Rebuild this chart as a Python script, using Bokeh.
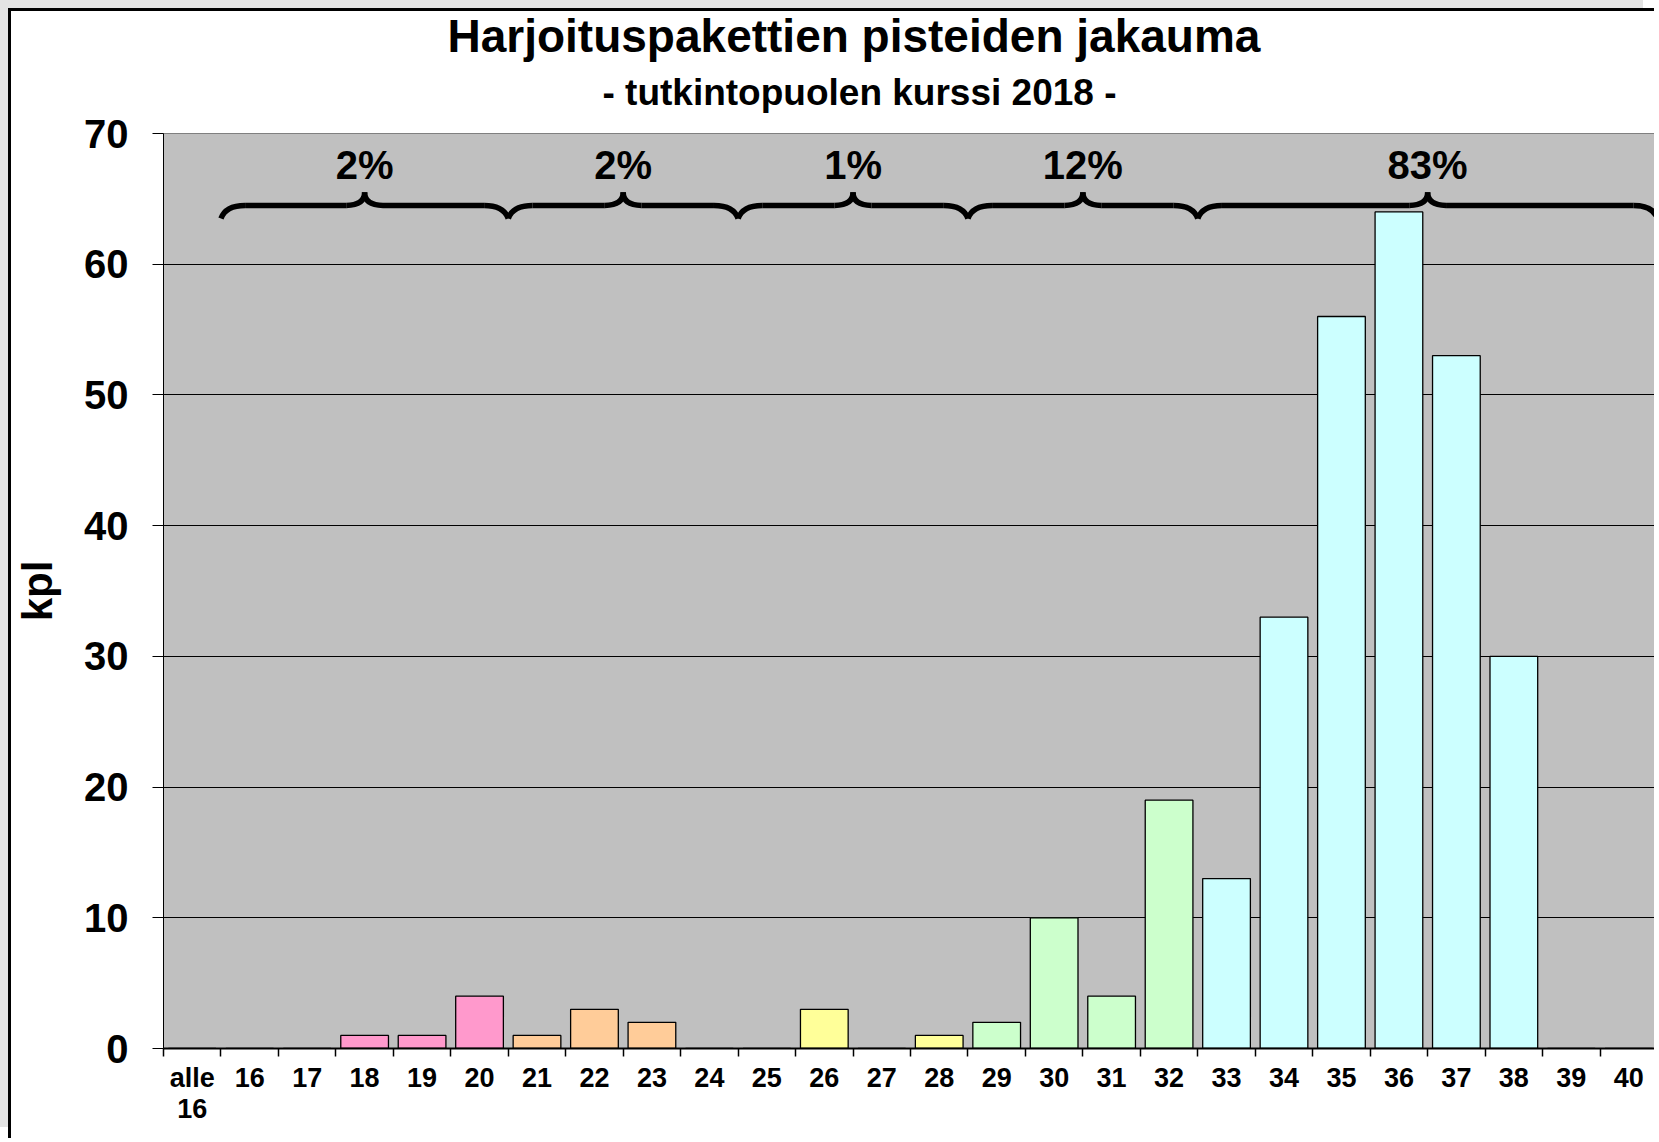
from bokeh.plotting import figure
from bokeh.models import Range1d, FixedTicker, Title
from bokeh.embed import file_html
from bokeh.resources import INLINE
from bokeh.core.properties import value

# ---------------- data ----------------
categories = ["alle 16", "16", "17", "18", "19", "20", "21", "22", "23", "24", "25",
              "26", "27", "28", "29", "30", "31", "32", "33", "34", "35", "36",
              "37", "38", "39", "40"]
counts = [0, 0, 0, 1, 1, 4, 1, 3, 2, 0, 0, 3, 0, 1, 2, 10, 4, 19, 13, 33, 56, 64,
          53, 30, 0, 0]
group_first = ["16", "21", "25", "29", "33"]
group_last = ["20", "24", "28", "32", "40"]
group_pct = ["2%", "2%", "1%", "12%", "83%"]
group_colors = ["#FF99CC", "#FFCC99", "#FFFF99", "#CCFFCC", "#CCFFFF"]
y_ticks = [0, 10, 20, 30, 40, 50, 60, 70]
title_text = "Harjoituspakettien pisteiden jakauma"
subtitle_text = "- tutkintopuolen kurssi 2018 -"
y_label = "kpl"

FONT = "Liberation Sans"

# ---------------- derived ----------------
n = len(categories)
xs = [i + 0.5 for i in range(n)]
bar_colors = []
for i in range(n):
    col = "#C0C0C0"
    for g, (a, b) in enumerate(zip(group_first, group_last)):
        if categories.index(a) <= i <= categories.index(b):
            col = group_colors[g]
    bar_colors.append(col)

p = figure(width=1646, height=1130, output_backend="svg", toolbar_location=None,
           x_range=Range1d(0, n), y_range=Range1d(y_ticks[0], y_ticks[-1]),
           min_border_left=152, min_border_top=122, min_border_bottom=93,
           min_border_right=0, background_fill_color="#C0C0C0",
           border_fill_color="white")
p.styles = {"border-left": "3px solid black", "border-top": "3px solid black",
            "margin-left": "8px", "margin-top": "8px",
            "box-shadow": "-11px -11px 0 0 #E3E3E3"}
p.outline_line_color = "#808080"
p.outline_line_width = 1

# titles
p.add_layout(Title(text=subtitle_text, text_font=FONT, text_font_size="37px",
                   text_font_style="bold", align="left", offset=439,
                   standoff=41, text_color="black"), "above")
p.add_layout(Title(text=title_text, text_font=FONT, text_font_size="46px",
                   text_font_style="bold", align="left", offset=284,
                   standoff=-24, text_color="black"), "above")

# bars
p.vbar(x=xs, top=counts, width=0.83, bottom=0, fill_color=bar_colors,
       line_color="#000000", line_width=1.3)

# braces
yb, ym, yp = 63.5, 64.5, 65.5
cw, mw = 0.42, 0.32
qx0, qy0, qx1, qy1, qcx, qcy = [], [], [], [], [], []
sx0, sy0, sx1, sy1 = [], [], [], []
lab_x = []
for a, b in zip(group_first, group_last):
    x0 = categories.index(a)
    x1 = categories.index(b) + 1
    mid = (x0 + x1) / 2
    lab_x.append(mid)
    # end curls
    qx0 += [x0, x1]; qy0 += [yb, yb]
    qcx += [x0 + 0.08, x1 - 0.08]; qcy += [ym, ym]
    qx1 += [x0 + cw, x1 - cw]; qy1 += [ym, ym]
    # middle cusp
    qx0 += [mid - mw, mid + mw]; qy0 += [ym, ym]
    qcx += [mid, mid]; qcy += [ym, ym]
    qx1 += [mid, mid]; qy1 += [yp, yp]
    # straight parts
    sx0 += [x0 + cw, mid + mw]; sy0 += [ym, ym]
    sx1 += [mid - mw, x1 - cw]; sy1 += [ym, ym]

p.quadratic(x0=qx0, y0=qy0, x1=qx1, y1=qy1, cx=qcx, cy=qcy,
            line_color="black", line_width=5.5)
p.segment(x0=sx0, y0=sy0, x1=sx1, y1=sy1, line_color="black", line_width=5.5)
p.text(x=lab_x, y=[67.6] * len(lab_x), text=group_pct, text_align="center",
       text_baseline="middle", text_font=value(FONT), text_font_size="40px",
       text_font_style="bold", text_color="black")

# x axis: labels at centers, tick marks (minor) at boundaries
p.xaxis.ticker = FixedTicker(ticks=xs, minor_ticks=list(range(n + 1)))
p.xaxis.major_label_overrides = {x: c.replace(" ", "\n") for x, c in zip(xs, categories)}
p.xaxis.major_tick_out = 0
p.xaxis.major_tick_in = 0
p.xaxis.minor_tick_out = 8
p.xaxis.minor_tick_in = 0
p.xaxis.minor_tick_line_color = "black"
p.xaxis.minor_tick_line_width = 1.5
p.xaxis.axis_line_color = "black"
p.xaxis.axis_line_width = 2
p.xaxis.major_label_text_font = FONT
p.xaxis.major_label_text_font_size = "27px"
p.xaxis.major_label_text_font_style = "bold"
p.xaxis.major_label_text_color = "black"
p.xaxis.major_label_text_line_height = 1.05
p.xaxis.major_label_standoff = 6
p.xaxis.major_label_orientation = "horizontal"

# y axis
p.yaxis.ticker = FixedTicker(ticks=y_ticks, minor_ticks=[])
p.yaxis.major_tick_out = 11
p.yaxis.major_tick_in = 0
p.yaxis.major_tick_line_color = "black"
p.yaxis.axis_line_color = "black"
p.yaxis.major_label_text_font = FONT
p.yaxis.major_label_text_font_size = "40px"
p.yaxis.major_label_text_font_style = "bold"
p.yaxis.major_label_text_color = "black"
p.yaxis.major_label_standoff = 24
p.yaxis.axis_label = y_label
p.yaxis.axis_label_text_font = FONT
p.yaxis.axis_label_text_font_size = "42px"
p.yaxis.axis_label_text_font_style = "bold"
p.yaxis.axis_label_text_color = "black"
p.yaxis.axis_label_standoff = 20

# grid
p.xgrid.grid_line_color = None
p.ygrid.ticker = FixedTicker(ticks=y_ticks)
p.ygrid.grid_line_color = "black"
p.ygrid.grid_line_width = 1

open("out.html", "w").write(file_html(p, INLINE))
